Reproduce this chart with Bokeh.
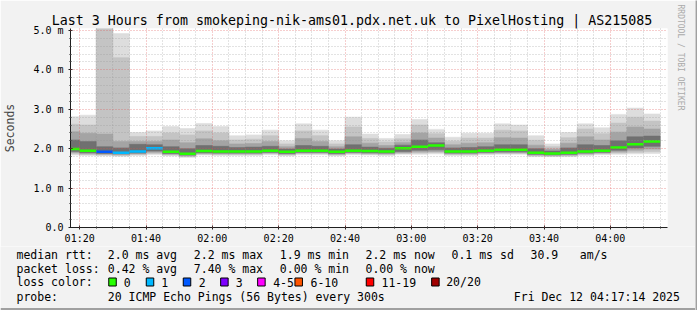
import numpy as np
import pandas as pd
from bokeh.plotting import figure
from bokeh.layouts import column, row
from bokeh.models import (Range1d, FixedTicker, DatetimeTickFormatter, CustomJSTickFormatter,
                          ColumnDataSource, Title)
from bokeh.core.properties import value
from bokeh.embed import file_html
from bokeh.resources import INLINE

# ---------------- data ----------------
DAY = "2025-12-12 "
view_start = "01:17:14"
view_end = "04:17:14"
step_minutes = 5

slot_start = ["01:15", "01:20", "01:25", "01:30", "01:35", "01:40", "01:45", "01:50", "01:55",
              "02:00", "02:05", "02:10", "02:15", "02:20", "02:25", "02:30", "02:35", "02:40",
              "02:45", "02:50", "02:55", "03:00", "03:05", "03:10", "03:15", "03:20", "03:25",
              "03:30", "03:35", "03:40", "03:45", "03:50", "03:55", "04:00", "04:05", "04:10"]

median_ms = [1.99, 1.95, 1.92, 1.90, 1.93, 2.01, 1.92, 1.87, 1.94, 1.93, 1.93, 1.93,
             1.95, 1.92, 1.95, 1.95, 1.92, 1.95, 1.94, 1.93, 2.01, 2.05, 2.08, 1.93,
             1.93, 1.95, 1.97, 1.97, 1.90, 1.88, 1.90, 1.93, 1.95, 2.03, 2.11, 2.18]

loss_pings = [0, 0, 2, 1, 1, 1, 0, 0, 0, 0, 0, 0,
              0, 0, 0, 0, 0, 0, 0, 0, 0, 0, 0, 0,
              0, 0, 0, 0, 0, 0, 0, 0, 0, 0, 0, 0]

smoke_max = [2.81, 2.85, 5.20, 4.92, 2.41, 2.45, 2.56, 2.51, 2.64, 2.56, 2.33, 2.35,
             2.47, 2.20, 2.63, 2.47, 2.20, 2.80, 2.37, 2.26, 2.36, 2.74, 2.49, 2.29,
             2.39, 2.39, 2.63, 2.60, 2.33, 2.12, 2.41, 2.63, 2.53, 2.87, 3.03, 2.88]
smoke_p90 = [2.62, 2.60, 5.20, 4.31, 2.31, 2.31, 2.40, 2.35, 2.45, 2.40, 2.22, 2.24,
             2.33, 2.12, 2.45, 2.33, 2.12, 2.55, 2.26, 2.17, 2.25, 2.60, 2.38, 2.19,
             2.27, 2.27, 2.47, 2.45, 2.21, 2.05, 2.28, 2.50, 2.38, 2.65, 2.80, 2.70]
smoke_p75 = [2.43, 2.39, 2.37, 2.18, 2.18, 2.18, 2.22, 2.15, 2.25, 2.20, 2.12, 2.13,
             2.18, 2.05, 2.26, 2.18, 2.05, 2.30, 2.14, 2.08, 2.16, 2.40, 2.27, 2.10,
             2.14, 2.15, 2.28, 2.27, 2.09, 1.99, 2.14, 2.30, 2.22, 2.42, 2.55, 2.50]
smoke_p60 = [2.22, 2.18, 2.05, 2.02, 2.11, 2.10, 2.05, 2.00, 2.08, 2.06, 2.03, 2.04,
             2.06, 1.99, 2.08, 2.06, 1.99, 2.10, 2.04, 2.01, 2.09, 2.22, 2.15, 2.02,
             2.03, 2.05, 2.10, 2.10, 2.00, 1.94, 2.02, 2.10, 2.08, 2.20, 2.30, 2.32]
smoke_p40 = [1.93, 1.90, 1.88, 1.87, 1.89, 1.94, 1.88, 1.84, 1.90, 1.89, 1.89, 1.89,
             1.91, 1.88, 1.91, 1.91, 1.88, 1.91, 1.90, 1.89, 1.93, 1.96, 1.97, 1.89,
             1.89, 1.91, 1.92, 1.92, 1.86, 1.85, 1.86, 1.89, 1.91, 1.96, 2.02, 2.06]
smoke_p25 = [1.90, 1.87, 1.86, 1.85, 1.87, 1.91, 1.86, 1.82, 1.88, 1.87, 1.87, 1.87,
             1.89, 1.86, 1.89, 1.89, 1.86, 1.89, 1.88, 1.87, 1.90, 1.92, 1.93, 1.87,
             1.87, 1.89, 1.90, 1.90, 1.84, 1.83, 1.84, 1.87, 1.89, 1.92, 1.96, 1.99]
smoke_p10 = [1.87, 1.85, 1.84, 1.83, 1.85, 1.88, 1.84, 1.80, 1.86, 1.85, 1.85, 1.85,
             1.87, 1.84, 1.87, 1.87, 1.84, 1.87, 1.86, 1.85, 1.88, 1.89, 1.90, 1.85,
             1.85, 1.87, 1.88, 1.88, 1.82, 1.81, 1.82, 1.85, 1.87, 1.89, 1.91, 1.93]
smoke_min = [1.84, 1.83, 1.82, 1.81, 1.83, 1.85, 1.82, 1.78, 1.84, 1.83, 1.83, 1.83,
             1.85, 1.82, 1.85, 1.85, 1.82, 1.85, 1.84, 1.83, 1.86, 1.86, 1.87, 1.83,
             1.83, 1.85, 1.86, 1.86, 1.80, 1.80, 1.80, 1.83, 1.85, 1.86, 1.87, 1.88]

loss_labels = ["0", "1", "2", "3", "4-5", "6-10", "11-19", "20/20"]
loss_upper = [0, 1, 2, 3, 5, 10, 19, 20]
loss_colors = ["#26ff00", "#00b8ff", "#0059ff", "#7e00ff", "#ff00ff", "#ff5500", "#ff0000", "#a10000"]

x_tick_labels = ["01:20", "01:40", "02:00", "02:20", "02:40", "03:00", "03:20", "03:40", "04:00"]
y_ticks = [0, 1, 2, 3, 4, 5]
y_max = 5.05

title_text = "Last 3 Hours from smokeping-nik-ams01.pdx.net.uk to PixelHosting | AS215085"
watermark = "RRDTOOL / TOBI OETIKER"
stats_rtt = ["median rtt:", "2.0 ms avg", "2.2 ms max", "1.9 ms min", "2.2 ms now",
             "0.1 ms sd", "30.9", "am/s"]
stats_loss = ["packet loss:", "0.42 % avg", "7.40 % max", "0.00 % min", "0.00 % now"]
probe_row = ["probe:", "20 ICMP Echo Pings (56 Bytes) every 300s", "Fri Dec 12 04:17:14 2025"]

# ---------------- layout constants (pixels) ----------------
FONT = "DejaVu Sans Mono"
EDGE = 2                 # dark right edge of the image
W = 697 - EDGE
MAIN_H = 246
LEG_H = 310 - MAIN_H
BG = "#f2f2f2"
SHADE = "#a0a0a0"

# ---------------- main chart ----------------
t0 = pd.Timestamp(DAY + view_start)
t1 = pd.Timestamp(DAY + view_end)
left = pd.to_datetime([DAY + s for s in slot_start])
right = left + pd.Timedelta(minutes=step_minutes)

def loss_color(n):
    for up, c in zip(loss_upper, loss_colors):
        if n <= up:
            return c
    return loss_colors[-1]

src = ColumnDataSource(dict(
    left=left, right=right, med=median_ms,
    color=[loss_color(n) for n in loss_pings],
    mn=smoke_min, mx=smoke_max, p10=smoke_p10, p90=smoke_p90,
    p25=smoke_p25, p75=smoke_p75, p40=smoke_p40, p60=smoke_p60,
))

p = figure(width=W, height=MAIN_H, output_backend="svg", toolbar_location=None,
           x_axis_type="datetime",
           x_range=Range1d(t0, t1), y_range=Range1d(0, y_max),
           min_border_left=67, min_border_right=W - 667, min_border_top=28,
           min_border_bottom=18)
p.background_fill_color = "#ffffff"
p.border_fill_color = BG
p.outline_line_color = None

p.title.text = title_text
p.title.align = "left"
p.title.offset = -18.7
p.title.standoff = 2
p.title.text_font = FONT
p.title.text_font_size = "13.3px"
p.title.text_font_style = "normal"
p.title.text_color = "#000000"

p.add_layout(Title(text=watermark, align="left", offset=-24, standoff=16,
                   text_font=FONT, text_font_size="8px", text_font_style="normal",
                   text_color="#aaaaaa"), "right")

layers = [("mn", "mx", "#dddddd"), ("p10", "p90", "#c4c4c4"),
          ("p25", "p75", "#a4a4a4"), ("p40", "p60", "#707070")]
for lo, hi, col in layers:
    p.quad(left="left", right="right", bottom=lo, top=hi, source=src,
           fill_color=col, line_color=col, line_width=0.6)

p.segment(x0="left", x1="right", y0="med", y1="med", source=src,
          line_color="color", line_width=2.5)

xt = [pd.Timestamp(DAY + s).value / 1e6 for s in x_tick_labels]
xminor = [v / 1e6 for v in pd.date_range(DAY + "01:20", DAY + "04:15",
                                            freq=f"{step_minutes}min").astype("int64")
          if v / 1e6 not in xt]
xticker = FixedTicker(ticks=xt, minor_ticks=xminor)
p.xaxis.ticker = xticker
p.xgrid.ticker = xticker
p.xaxis.formatter = DatetimeTickFormatter(minsec="%H:%M", minutes="%H:%M",
                                          hourmin="%H:%M", hours="%H:%M")
ymin_ticks = [round(v, 1) for v in np.arange(0, y_max, 0.2) if abs(v - round(v)) > 1e-6]
yticker = FixedTicker(ticks=y_ticks, minor_ticks=ymin_ticks)
p.yaxis.ticker = yticker
p.ygrid.ticker = yticker
p.yaxis.formatter = CustomJSTickFormatter(
    code="return tick == 0 ? '0.0' : tick.toFixed(1) + ' m';")

for ax in (p.xaxis[0], p.yaxis[0]):
    ax.axis_line_color = "#1f1f1f"
    ax.major_tick_line_color = "#1f1f1f"
    ax.minor_tick_line_color = "#1f1f1f"
    ax.major_tick_in = 2
    ax.major_tick_out = 2
    ax.minor_tick_in = 1
    ax.minor_tick_out = 1
    ax.major_label_text_font = FONT
    ax.major_label_text_font_size = "10px"
    ax.major_label_text_color = "#000000"
p.xaxis.major_label_standoff = 3
p.yaxis.major_label_standoff = 5
p.yaxis.axis_label = "Seconds"
p.yaxis.axis_label_text_font = FONT
p.yaxis.axis_label_text_font_size = "11.5px"
p.yaxis.axis_label_text_font_style = "normal"
p.yaxis.axis_label_standoff = 13

for g in (p.xgrid[0], p.ygrid[0]):
    g.level = "overlay"
    g.grid_line_color = "#de4f4f"
    g.grid_line_alpha = 0.55
    g.grid_line_dash = "1 2"
    g.minor_grid_line_color = "#8f8f8f"
    g.minor_grid_line_alpha = 0.5
    g.minor_grid_line_dash = "1 2"

# ---------------- legend block (pixel coordinates) ----------------
lg = figure(width=W, height=LEG_H, output_backend="svg", toolbar_location=None,
            x_range=Range1d(0, W), y_range=Range1d(LEG_H, 0),
            x_axis_location=None, y_axis_location=None,
            min_border=0, min_border_left=0, min_border_right=0,
            min_border_top=0, min_border_bottom=0)
lg.grid.visible = False
lg.background_fill_color = BG
lg.border_fill_color = BG
lg.outline_line_color = None

row_y = [8, 22.3, 35.7, 50]
col_x = [16, 107.3, 193.3, 279.3, 365, 451, 530, 579.3]
sq_x = [112, 149.5, 186.5, 223.9, 260.9, 298.2, 369.5, 434.9]
lab_x = [123.3, 160.7, 198.3, 235.3, 272.7, 310, 381, 445.7]

tx, ty, tt = [], [], []
for txt, x in zip(stats_rtt, col_x):
    tx.append(x); ty.append(row_y[0]); tt.append(txt)
for txt, x in zip(stats_loss, col_x):
    tx.append(x); ty.append(row_y[1]); tt.append(txt)
tx.append(col_x[0]); ty.append(row_y[2]); tt.append("loss color:")
for lab, x in zip(loss_labels, lab_x):
    tx.append(x); ty.append(row_y[2]); tt.append(lab)
for txt, x in zip(probe_row, [16, 107.3, 513.3]):
    tx.append(x); ty.append(row_y[3]); tt.append(txt)

lg.text(x=tx, y=ty, text=tt, text_font=value(FONT), text_font_size=value("11.5px"),
        text_color="#000000", text_align="left", text_baseline="middle")
lg.rect(x=sq_x, y=[row_y[2] - 0.2] * len(sq_x), width=7.5, height=8,
        fill_color=loss_colors, line_color="#000000", line_width=1)
# shaded bottom edge of the image
lg.quad(left=[0], right=[W], bottom=[LEG_H], top=[LEG_H - 2.5],
        fill_color=SHADE, line_color=None)

# shaded right edge of the image
edge = figure(width=EDGE, height=310, output_backend="svg", toolbar_location=None,
              x_range=Range1d(0, 1), y_range=Range1d(0, 1),
              x_axis_location=None, y_axis_location=None,
              min_border=0, min_border_left=0, min_border_right=0,
              min_border_top=0, min_border_bottom=0)
edge.grid.visible = False
edge.background_fill_color = SHADE
edge.border_fill_color = SHADE
edge.outline_line_color = None

layout = row(column(p, row(lg, spacing=0), spacing=0), column(edge, spacing=0), spacing=0)
open("out.html", "w").write(file_html(layout, INLINE))
